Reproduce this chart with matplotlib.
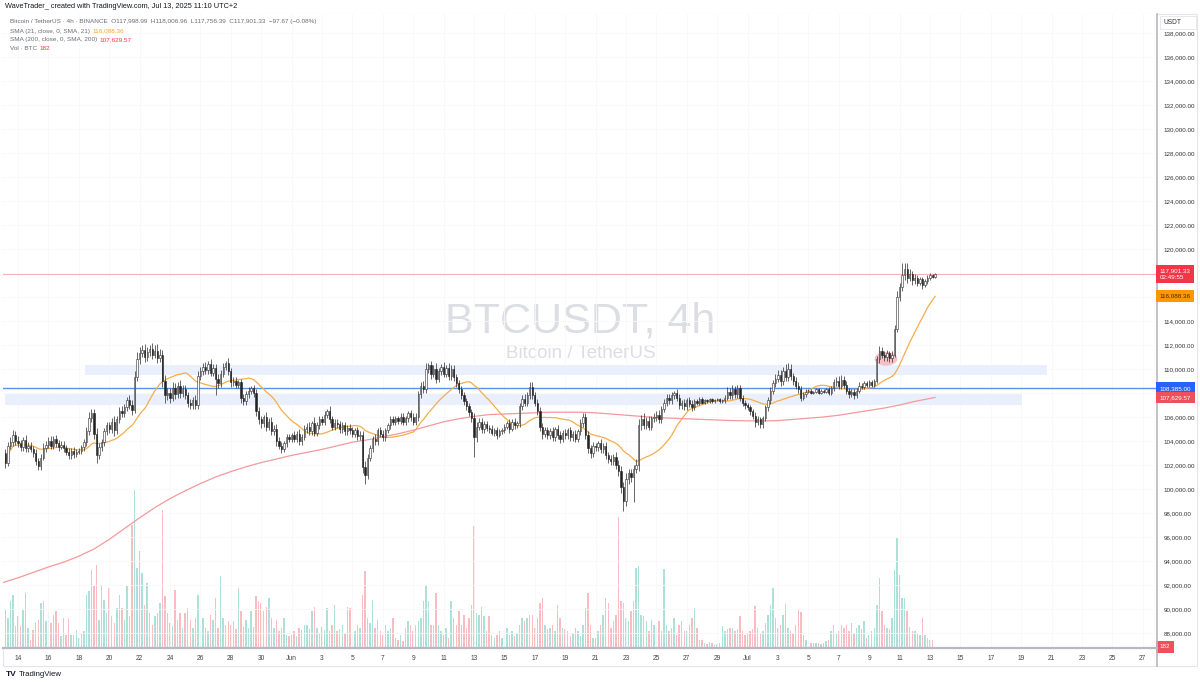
import numpy as np
import pandas as pd
import matplotlib
matplotlib.use("Agg")
import matplotlib.pyplot as plt
import matplotlib.dates as mdates
from matplotlib.patches import Rectangle, Ellipse
from matplotlib.lines import Line2D
from matplotlib.transforms import blended_transform_factory

plt.rcParams['font.family'] = ['Liberation Sans', 'DejaVu Sans']

# ---------------- data (prices in thousands of USDT, volume in thousands of BTC) -------------
first_candle = "2025-05-13 04:00"
first_open = 103.0

closes = [
    102.2, 103.6, 103.9, 104.5, 104.0,                      # May 13
    103.8, 103.5, 104.1, 103.4, 103.6, 103.3,               # May 14
    103.0, 102.3, 101.9, 102.6, 103.4, 103.7,               # May 15
    104.0, 103.6, 104.2, 103.8, 103.5, 103.7,               # May 16
    103.4, 103.1, 102.8, 103.2, 102.9, 103.1,               # May 17
    103.2, 103.5, 103.9, 104.8, 105.9, 106.3,               # May 18
    104.6, 102.8, 103.5, 103.9, 104.8, 105.3,               # May 19
    105.0, 105.6, 104.9, 105.8, 106.5, 106.3,               # May 20
    106.8, 107.4, 107.0, 106.6, 109.3, 110.8,               # May 21
    111.3, 111.6, 111.0, 111.4, 111.7, 111.2,               # May 22
    111.5, 110.9, 111.2, 109.0, 107.8, 108.0,               # May 23
    107.6, 108.4, 107.9, 108.6, 108.0, 108.3,               # May 24
    107.8, 107.2, 107.0, 107.4, 107.0, 109.4,               # May 25
    109.8, 110.2, 109.9, 110.4, 109.7, 110.1,               # May 26
    109.2, 108.8, 109.6, 110.2, 110.5, 109.8,               # May 27
    108.9, 109.0, 108.7, 108.9, 107.6, 107.3,               # May 28
    107.9, 108.2, 108.4, 108.0, 106.5, 105.8,               # May 29
    105.5, 106.0, 105.2, 105.6, 104.8, 105.0,               # May 30
    104.0, 103.6, 103.3, 103.8, 104.3, 104.2,               # May 31
    104.5, 104.2, 104.6, 104.0, 104.3, 105.0,               # Jun 1
    105.2, 104.8, 105.5, 104.7, 105.3, 105.8,               # Jun 2
    105.6, 106.2, 106.5, 105.8, 105.2, 105.5,               # Jun 3
    105.4, 105.0, 105.3, 104.8, 105.1, 104.9,               # Jun 4
    104.6, 104.9, 104.4, 104.5, 101.8, 101.2,               # Jun 5
    102.6, 103.4, 104.2, 104.0, 104.9, 104.6,               # Jun 6
    104.3, 104.9, 105.3, 105.8, 105.6, 105.9,               # Jun 7
    105.7, 106.0, 105.6, 105.9, 106.3, 106.0,               # Jun 8
    105.6, 106.0, 107.9, 108.6, 108.3, 110.0,               # Jun 9
    110.3, 109.6, 110.0, 109.2, 109.8, 110.2,               # Jun 10
    109.6, 110.1, 109.4, 110.0, 109.3, 108.8,               # Jun 11
    108.3, 107.8, 107.3, 106.9, 106.4, 105.9,               # Jun 12
    104.3, 105.2, 105.6, 105.0, 105.4, 105.1,               # Jun 13
    105.0, 104.7, 104.9, 104.5, 104.8, 104.9,               # Jun 14
    105.2, 105.5, 105.0, 105.6, 105.3, 105.5,               # Jun 15
    106.9, 107.5, 107.2, 107.8, 108.5, 107.8,               # Jun 16
    107.2, 106.5, 105.2, 104.6, 104.9, 104.5,               # Jun 17
    104.8, 104.3, 105.0, 104.5, 104.2, 104.7,               # Jun 18
    104.5, 104.9, 104.3, 104.6, 104.2, 104.8,               # Jun 19
    105.5, 106.0, 104.5, 103.4, 103.0, 103.6,               # Jun 20
    103.5, 103.8, 103.3, 103.6, 102.8, 102.5,               # Jun 21
    102.3, 102.7, 102.0, 101.5, 100.2, 99.0,                # Jun 22
    100.8, 101.3, 101.0, 101.7, 102.0, 105.3,               # Jun 23
    105.8, 105.3, 105.7, 105.2, 105.9, 106.0,               # Jun 24
    106.2, 105.8, 106.7, 107.2, 107.6, 107.4,               # Jun 25
    107.8, 108.0, 107.6, 107.0, 107.2, 106.9,               # Jun 26
    107.4, 107.1, 106.8, 107.3, 107.2, 107.5,               # Jun 27
    107.2, 107.4, 107.3, 107.5, 107.3, 107.4,               # Jun 28
    107.5, 107.3, 107.4, 107.6, 108.1, 107.8,               # Jun 29
    108.3, 107.9, 108.4, 107.6, 107.2, 107.0,               # Jun 30
    106.8, 106.5, 106.1, 105.6, 105.8, 105.4,               # Jul 1
    105.9, 106.8, 107.4, 108.2, 108.8, 109.2,               # Jul 2
    109.5, 109.0, 109.8, 109.3, 110.0, 109.4,               # Jul 3
    109.0, 108.6, 108.3, 107.6, 107.9, 108.1,               # Jul 4
    108.2, 108.0, 108.1, 108.3, 108.0, 108.2,               # Jul 5
    108.1, 108.3, 108.0, 108.4, 108.9, 109.0,               # Jul 6
    108.6, 109.1, 108.7, 108.2, 107.9, 108.1,               # Jul 7
    107.8, 108.2, 108.6, 108.5, 108.8, 108.7,               # Jul 8
    108.9, 108.7, 109.0, 110.8, 111.5, 111.2,               # Jul 9
    111.0, 111.3, 110.9, 111.2, 113.3, 116.0,               # Jul 10
    116.8, 117.8, 118.3, 117.6, 117.9, 117.4,               # Jul 11
    117.6, 117.2, 117.5, 117.0, 117.3, 117.6,               # Jul 12
    117.8, 117.7, 117.90133,                                # Jul 13
]

wick_hi = [
    0.3, 0.3, 0.4, 0.4, 0.3,
    0.4, 0.3, 0.2, 0.4, 0.3, 0.3,
    0.3, 0.3, 0.3, 0.3, 0.4, 0.3,
    0.3, 0.4, 0.2, 0.3, 0.3, 0.3,
    0.3, 0.3, 0.3, 0.2, 0.3, 0.2,
    0.2, 0.2, 0.3, 0.4, 0.5, 0.4,
    0.4, 0.5, 0.3, 0.3, 0.3, 0.3,
    0.3, 0.3, 0.5, 0.3, 0.3, 0.4,
    0.3, 0.3, 0.4, 0.4, 0.5, 0.6,
    0.5, 0.4, 0.5, 0.4, 0.3, 0.5,
    0.5, 0.6, 0.5, 0.4, 0.5, 0.4,
    0.4, 0.5, 0.4, 0.3, 0.5, 0.4,
    0.4, 0.3, 0.3, 0.3, 0.4, 0.4,
    0.4, 0.3, 0.4, 0.3, 0.4, 0.3,
    0.3, 0.4, 0.3, 0.3, 0.2, 0.4,
    0.3, 0.3, 0.3, 0.2, 0.3, 0.3,
    0.3, 0.3, 0.2, 0.3, 0.3, 0.3,
    0.3, 0.2, 0.4, 0.3, 0.4, 0.3,
    0.4, 0.3, 0.3, 0.2, 0.3, 0.3,
    0.2, 0.3, 0.2, 0.4, 0.3, 0.3,
    0.3, 0.4, 0.2, 0.5, 0.3, 0.3,
    0.3, 0.3, 0.2, 0.4, 0.3, 0.3,
    0.3, 0.3, 0.3, 0.3, 0.2, 0.3,
    0.3, 0.2, 0.3, 0.3, 0.3, 0.5,
    0.3, 0.3, 0.2, 0.4, 0.2, 0.3,
    0.3, 0.2, 0.2, 0.3, 0.3, 0.2,
    0.2, 0.3, 0.3, 0.2, 0.2, 0.3,
    0.3, 0.3, 0.3, 0.3, 0.4, 0.5,
    0.2, 0.4, 0.3, 0.5, 0.3, 0.2,
    0.4, 0.2, 0.4, 0.3, 0.3, 0.3,
    0.3, 0.3, 0.3, 0.3, 0.3, 0.3,
    0.4, 0.4, 0.3, 0.3, 0.3, 0.3,
    0.2, 0.3, 0.2, 0.3, 0.2, 0.2,
    0.2, 0.2, 0.3, 0.2, 0.3, 0.2,
    0.3, 0.3, 0.4, 0.3, 0.4, 0.4,
    0.3, 0.3, 0.3, 0.3, 0.3, 0.3,
    0.3, 0.4, 0.2, 0.3, 0.3, 0.2,
    0.3, 0.2, 0.3, 0.2, 0.3, 0.2,
    0.3, 0.3, 0.3, 0.3, 0.3, 0.3,
    0.2, 0.2, 0.4, 0.2, 0.3, 0.3,
    0.3, 0.2, 0.4, 0.4, 0.4, 0.4,
    0.5, 0.4, 0.4, 0.3, 0.5, 0.5,
    0.4, 0.5, 0.3, 0.4, 0.2, 0.3,
    0.3, 0.4, 0.2, 0.3, 0.3, 0.3,
    0.3, 0.2, 0.3, 0.3, 0.2, 0.3,
    0.2, 0.3, 0.3, 0.2, 0.2, 0.2,
    0.2, 0.1, 0.1, 0.1, 0.1, 0.1,
    0.1, 0.1, 0.1, 0.2, 0.4, 0.3,
    0.4, 0.3, 0.3, 0.3, 0.2, 0.2,
    0.2, 0.2, 0.2, 0.3, 0.3, 0.2,
    0.2, 0.2, 0.3, 0.3, 0.3, 0.4,
    0.4, 0.4, 0.4, 0.6, 0.5, 0.4,
    0.3, 0.3, 0.3, 0.3, 0.2, 0.2,
    0.1, 0.1, 0.1, 0.1, 0.1, 0.1,
    0.1, 0.1, 0.2, 0.2, 0.3, 0.3,
    0.4, 0.4, 0.3, 0.3, 0.2, 0.2,
    0.2, 0.2, 0.3, 0.2, 0.2, 0.2,
    0.2, 0.2, 0.2, 0.3, 0.4, 0.3,
    0.3, 0.3, 0.2, 0.3, 0.4, 0.5,
    0.4, 1.0, 0.5, 0.5, 0.4, 0.3,
    0.3, 0.2, 0.2, 0.2, 0.2, 0.2,
    0.2, 0.1, 0.1,
]

wick_lo = [
    0.45, 0.3, 0.3, 0.3, 0.3,
    0.3, 0.3, 0.3, 0.3, 0.3, 0.2,
    0.3, 0.3, 0.3, 0.3, 0.2, 0.3,
    0.3, 0.3, 0.3, 0.3, 0.3, 0.2,
    0.3, 0.3, 0.3, 0.3, 0.3, 0.2,
    0.2, 0.3, 0.3, 0.3, 0.3, 0.3,
    0.4, 0.6, 0.3, 0.3, 0.3, 0.3,
    0.3, 0.3, 0.5, 0.3, 0.3, 0.3,
    0.3, 0.3, 0.3, 0.4, 0.3, 0.3,
    0.4, 0.3, 0.4, 0.3, 0.3, 0.4,
    0.3, 0.4, 0.3, 0.5, 0.6, 0.4,
    0.4, 0.3, 0.4, 0.3, 0.4, 0.3,
    0.3, 0.4, 0.3, 0.3, 0.3, 0.3,
    0.3, 0.3, 0.3, 0.3, 0.3, 0.3,
    1.4, 0.4, 0.3, 0.3, 0.3, 0.3,
    0.4, 0.3, 0.3, 0.3, 0.4, 0.3,
    0.3, 0.3, 0.3, 0.3, 0.4, 0.4,
    0.4, 0.3, 0.4, 0.3, 0.3, 0.3,
    0.4, 0.3, 0.3, 0.2, 0.3, 0.3,
    0.3, 0.3, 0.3, 0.3, 0.3, 0.2,
    0.3, 0.3, 0.3, 0.3, 0.3, 0.3,
    0.3, 0.3, 0.3, 0.3, 0.3, 0.3,
    0.3, 0.3, 0.3, 0.3, 0.3, 0.3,
    0.3, 0.3, 0.3, 0.3, 0.5, 0.8,
    0.4, 0.3, 0.3, 0.3, 0.3, 0.3,
    0.3, 0.3, 0.2, 0.3, 0.3, 0.3,
    0.3, 0.3, 0.3, 0.3, 0.3, 0.3,
    0.3, 0.3, 0.3, 0.3, 0.3, 0.3,
    0.3, 0.4, 0.3, 0.4, 0.3, 0.3,
    0.3, 0.3, 0.3, 0.3, 0.3, 0.3,
    0.3, 0.3, 0.3, 0.3, 0.3, 0.3,
    1.6, 0.4, 0.3, 0.3, 0.3, 0.3,
    0.3, 0.2, 0.3, 0.3, 0.2, 0.2,
    0.2, 0.2, 0.3, 0.2, 0.3, 0.2,
    0.3, 0.3, 0.3, 0.3, 0.3, 0.3,
    0.3, 0.3, 0.4, 0.4, 0.3, 0.3,
    0.3, 0.3, 0.3, 0.3, 0.4, 0.3,
    0.3, 0.3, 0.3, 0.3, 0.3, 0.3,
    0.3, 0.3, 0.3, 0.4, 0.4, 0.3,
    0.3, 0.3, 0.3, 0.3, 0.3, 0.3,
    0.3, 0.3, 0.3, 0.4, 0.5, 0.8,
    0.4, 0.4, 0.4, 2.1, 0.4, 0.5,
    0.4, 0.3, 0.3, 0.3, 0.3, 0.3,
    0.3, 0.3, 0.3, 0.3, 0.3, 0.3,
    0.3, 0.3, 0.3, 0.3, 0.3, 0.3,
    0.3, 0.3, 0.3, 0.2, 0.2, 0.2,
    0.1, 0.1, 0.1, 0.1, 0.1, 0.1,
    0.1, 0.1, 0.1, 0.2, 0.2, 0.3,
    0.3, 0.3, 0.3, 0.3, 0.3, 0.3,
    0.2, 0.3, 0.3, 0.4, 0.3, 0.3,
    0.3, 0.2, 0.3, 0.3, 0.3, 0.3,
    0.3, 0.4, 0.3, 0.3, 0.3, 0.3,
    0.3, 0.3, 0.3, 0.3, 0.2, 0.2,
    0.1, 0.1, 0.1, 0.1, 0.1, 0.1,
    0.1, 0.1, 0.2, 0.2, 0.2, 0.3,
    0.3, 0.3, 0.3, 0.3, 0.3, 0.2,
    0.3, 0.2, 0.2, 0.2, 0.2, 0.2,
    0.2, 0.2, 0.2, 0.2, 0.3, 0.3,
    0.3, 0.3, 0.3, 0.3, 0.2, 0.2,
    0.3, 0.3, 0.4, 0.4, 0.3, 0.4,
    0.3, 0.3, 0.2, 0.3, 0.2, 0.2,
    0.2, 0.1, 0.1,
]

volumes = [
    5.7, 4.5, 7.0, 8.0, 3.3,
    4.8, 3.3, 5.7, 8.2, 3.0, 1.2,
    2.7, 3.8, 4.2, 6.8, 7.0, 4.0,
    5.2, 3.8, 5.0, 5.5, 3.8, 1.8,
    4.5, 2.0, 4.4, 2.0, 2.0, 2.7,
    1.5, 2.2, 2.5, 8.0, 8.5, 11.7,
    9.3, 12.5, 4.2, 9.5, 7.2, 5.2,
    9.0, 4.8, 3.8, 6.0, 8.0, 6.0,
    4.2, 9.3, 4.8, 18.5, 23.7, 12.0,
    14.5, 11.2, 6.5, 9.8, 5.2, 3.5,
    4.8, 5.2, 6.8, 20.7, 7.8, 5.2,
    3.8, 3.3, 8.7, 4.2, 5.2, 3.0,
    5.2, 6.0, 4.2, 3.0, 4.5, 7.9,
    3.5, 4.5, 3.0, 2.5, 5.0, 4.2,
    7.5, 3.0, 10.8, 4.5, 3.5, 4.0,
    3.5, 4.0, 2.8, 9.0, 5.5, 3.2,
    4.2, 3.0, 5.5, 3.2, 7.8, 7.0,
    6.8, 5.5, 6.2, 7.5, 4.5, 3.0,
    4.2, 2.5, 3.0, 4.5, 2.0, 1.8,
    2.0, 2.5, 1.8, 3.0, 2.7, 3.5,
    3.5, 2.8, 5.5, 6.2, 3.0, 2.2,
    3.2, 2.7, 6.0, 2.5, 3.5, 6.5,
    2.5, 2.8, 3.5, 2.2, 6.2, 6.0,
    2.0, 2.5, 3.5, 3.0, 8.0, 11.5,
    4.5, 3.8, 7.2, 3.0, 4.2, 2.5,
    2.0, 3.5, 2.5, 3.0, 4.5, 1.5,
    1.2, 2.0, 1.0, 3.0, 4.0, 3.5,
    2.5, 3.5, 4.0, 4.5, 7.0, 9.5,
    7.0, 3.5, 3.5, 8.2, 3.5, 2.5,
    2.0, 3.0, 1.5, 7.0, 4.5, 3.5,
    5.5, 3.5, 5.0, 3.0, 4.5, 6.5,
    18.3, 5.2, 5.0, 6.1, 4.8, 2.5,
    4.8, 2.0, 1.5, 2.0, 2.5, 1.5,
    2.0, 3.0, 2.0, 2.5, 1.8, 2.2,
    3.5, 4.5, 4.0, 4.5, 5.0, 5.0,
    3.0, 4.5, 6.8, 7.5, 3.5, 2.8,
    3.0, 3.5, 2.5, 6.5, 4.5, 3.0,
    2.8, 2.5, 1.8, 2.2, 3.0, 2.5,
    1.8, 3.5, 6.0, 8.2, 3.5, 1.5,
    1.5, 2.5, 3.5, 5.0, 7.5, 6.8,
    3.0, 4.0, 5.0, 19.7, 7.0, 6.8,
    4.5, 4.0, 5.5, 7.0, 12.0, 12.3,
    5.0, 4.8, 4.0, 2.5, 4.2, 3.5,
    3.0, 4.0, 2.5, 11.8, 3.5, 2.5,
    3.0, 4.5, 2.0, 3.5, 4.0, 2.5,
    2.5, 3.5, 4.5, 6.0, 3.0, 1.2,
    1.2, 0.8, 0.6, 0.9, 0.7, 0.5,
    0.6, 0.8, 3.3, 2.5, 2.8, 3.0,
    3.0, 2.5, 2.8, 4.8, 2.5, 2.0,
    2.2, 2.5, 2.8, 6.3, 3.0, 2.2,
    2.5, 3.8, 5.0, 6.5, 9.0, 4.5,
    3.0, 3.5, 5.0, 6.6, 3.0, 2.5,
    2.2, 3.5, 5.7, 5.4, 2.0, 1.2,
    1.0, 0.8, 0.8, 0.7, 0.8, 0.6,
    0.7, 1.0, 1.2, 2.5, 3.5, 2.3,
    2.5, 3.5, 3.0, 3.5, 2.5, 3.8,
    2.2, 3.0, 3.5, 2.8, 4.0, 1.5,
    2.0, 2.5, 3.0, 6.5, 10.5, 5.5,
    3.5, 3.0, 2.8, 4.5, 11.7, 16.5,
    10.9, 7.5, 7.5, 5.5, 3.2, 2.5,
    2.5, 2.2, 2.0, 4.5, 2.0, 1.5,
    1.2, 1.2, 0.182,
]

# SMA 200 at 00:00 of each day, May 13 .. Jul 13
sma200_start = "2025-05-13"
sma200_daily = [
    92.2, 92.6, 93.05, 93.5, 93.9, 94.4, 95.0, 95.8, 96.7, 97.6, 98.45, 99.2, 99.85,
    100.45, 101.0, 101.45, 101.85, 102.2, 102.5,
    102.8, 103.05, 103.3, 103.6, 103.9, 104.1, 104.35, 104.6, 104.9, 105.25, 105.6,
    105.85, 106.05, 106.2, 106.25, 106.3, 106.35, 106.4, 106.4, 106.4, 106.35,
    106.25, 106.15, 106.05, 105.95, 105.9, 105.85, 105.8, 105.75, 105.7,
    105.68, 105.67, 105.7, 105.8, 105.9, 106.0, 106.15, 106.35, 106.55, 106.75,
    107.0, 107.3, 107.55,
]
sma200_last = 107.62957
sma21_last = 116.08836
last_price = 117.90133
blue_level = 108.385
zone_upper = (109.5, 110.35, "2025-05-18 10:00", "2025-07-20 17:00")
zone_lower = (107.0, 107.95, "2025-05-13 03:00", "2025-07-19 01:00")
highlight = ("2025-07-10 02:30", 110.85)

ytick_vals = list(range(88000, 140000, 2000))
# labels hidden behind the value tags on the price scale
ytick_hidden = [118000, 116000, 108000]

# ---------------- derived ----------------
n = min(len(closes), len(wick_hi), len(wick_lo), len(volumes))
c = np.array(closes[:n]) * 1000
o = np.concatenate([[first_open * 1000], c[:-1]])
hi = np.maximum(o, c) + np.array(wick_hi[:n]) * 1000
lo = np.minimum(o, c) - np.array(wick_lo[:n]) * 1000
vol = np.array(volumes[:n])
times = pd.date_range(first_candle, periods=n, freq="4h")
x = mdates.date2num(times)
up = c >= o
sma21 = pd.Series(c).rolling(21, min_periods=1).mean().values

W, H = 1200, 682
def fx(p): return p / W
def fy(p): return 1 - p / H

fig = plt.figure(figsize=(12, 6.82), dpi=100, facecolor='white')
L, R, T, B = 3, 1157, 14, 648
ax2 = fig.add_axes([fx(L), fy(B), (R - L) / W, (B - T) / H])
ax = fig.add_axes([fx(L), fy(B), (R - L) / W, (B - T) / H], sharex=ax2)
ax.patch.set_visible(False)
ax.set_zorder(2)
ax2.set_zorder(1)

# x limits from pixel geometry (May 14 00:00 at px 18, 15.2 px per day)
d0 = mdates.date2num(pd.Timestamp("2025-05-14"))
ax.set_xlim(d0 + (L - 18) / 15.2, d0 + (R - 18) / 15.2)
# y limits (120,000 at px 249, 24 px per 2,000)
ax.set_ylim(120000 - (B - 249) * 2000 / 24, 120000 + (249 - T) * 2000 / 24)
ax2.set_ylim(0, (B - T) * 0.15)

# volume
vcol = np.where(up, '#ace0d9', '#f9bcc0')
ax2.bar(x, vol, width=0.6 / 6, color=vcol, linewidth=0, zorder=1)
for s in ax2.spines.values():
    s.set_visible(False)
ax2.set_yticks([])
ax2.tick_params(axis='x', bottom=False, labelbottom=False)

# zones
for lo_p, hi_p, t0, t1 in (zone_upper, zone_lower):
    a = mdates.date2num(pd.Timestamp(t0)); b = mdates.date2num(pd.Timestamp(t1))
    ax.add_patch(Rectangle((a, lo_p * 1000), b - a, (hi_p - lo_p) * 1000,
                           facecolor='#e9effd', edgecolor='none', zorder=1))

# watermark
ax.text(fx(580), fy(321), "BTCUSDT, 4h", transform=fig.transFigure, ha='center', va='center',
        fontsize=31, color='#dcdee4', zorder=0.5)
ax.text(fx(581), fy(353), "Bitcoin / TetherUS", transform=fig.transFigure, ha='center', va='center',
        fontsize=13.5, color='#dcdee4', zorder=0.5)

# level lines
ax.axhline(blue_level * 1000, color='#5b8ff0', lw=1.0, zorder=2)
ax.axhline(last_price * 1000, color='#f6b0b0', lw=0.7, zorder=2)

# highlight ellipse
ax.add_patch(Ellipse((mdates.date2num(pd.Timestamp(highlight[0])), highlight[1] * 1000),
                     1.5, 1150, facecolor='#f4a6b0', edgecolor='none', alpha=0.7, zorder=2))

# moving averages
ax.plot(x, sma21, color='#f6ad4a', lw=0.9, zorder=3)
sx = list(mdates.date2num(pd.date_range(sma200_start, periods=len(sma200_daily), freq="D"))) + [x[-1]]
sy = [v * 1000 for v in sma200_daily] + [sma200_last * 1000]
ax.plot(sx, sy, color='#f4999c', lw=0.9, zorder=3)

# candles
ax.vlines(x, lo, hi, color='#2a2a2a', lw=0.5, zorder=4)
bw = 0.55 / 6
body_h = np.maximum(np.abs(c - o), 40)
body_b = np.minimum(o, c)
ax.bar(x[up], body_h[up], bottom=body_b[up], width=bw, color='white', edgecolor='#2a2a2a', lw=0.4, zorder=5)
ax.bar(x[~up], body_h[~up], bottom=body_b[~up], width=bw, color='#222222', edgecolor='#222222', lw=0.4, zorder=5)

# axes styling
ax.yaxis.tick_right()
ax.set_yticks(ytick_vals)
ax.set_yticklabels(["" if v in ytick_hidden else f"{v:,.2f}" for v in ytick_vals])
ax.tick_params(axis='y', length=0, pad=5, labelsize=4.5, labelcolor='#333333')
xt = pd.date_range("2025-05-14", "2025-07-27", freq="2D")
ax.set_xticks(mdates.date2num(xt))
ax.set_xticklabels([("Jun" if t.month == 6 else "Jul") if t.day == 1 else str(t.day) for t in xt])
ax.tick_params(axis='x', length=0, pad=5, labelsize=4.8, labelcolor='#444444')
ax.grid(True, color='#f8f8fa', lw=0.6, zorder=0)
ax.set_axisbelow(True)
for s in ('top', 'left'):
    ax.spines[s].set_visible(False)
ax.spines['right'].set_color('#b7b9c0'); ax.spines['right'].set_linewidth(1.2)
ax.spines['bottom'].set_color('#b7b9c0'); ax.spines['bottom'].set_linewidth(1.6)

# right-axis value tags
tr = blended_transform_factory(ax.transAxes, ax.transData)
def tag(y, text, fc, tc='white', axis=ax, trf=None):
    axis.text(1.0025, y, text, transform=trf or tr, ha='left', va='center', fontsize=4.5, color=tc,
              bbox=dict(boxstyle='square,pad=0.55', fc=fc, ec='none'), zorder=10, clip_on=False,
              linespacing=1.25)
tag(last_price * 1000, "117,901.33\n02:49:55", '#f23645')
tag(sma21_last * 1000, "116,088.36", '#ff9800', tc='#3b2a00')
tag(blue_level * 1000, "108,385.00", '#2962ff')
tag(sma200_last * 1000, "107,629.57", '#f0505a')
tag(0.182, "182", '#f0505a', axis=ax2, trf=blended_transform_factory(ax2.transAxes, ax2.transData))

# outer frame lines
fig.add_artist(Rectangle((fx(3), fy(666)), (1197 - 3) / W, (666 - 14) / H, transform=fig.transFigure,
                         fill=False, edgecolor='#e3e5ea', lw=0.8, zorder=0))
fig.add_artist(Line2D([fx(R), fx(R)], [fy(666), fy(B)], transform=fig.transFigure, color='#b7b9c0', lw=1.2))

# USDT box
fig.add_artist(Rectangle((fx(1160), fy(29)), 36 / W, 13 / H, transform=fig.transFigure,
                         facecolor='white', edgecolor='#e3e5ea', lw=0.6, zorder=20))
fig.text(fx(1164), fy(22.5), "USDT", fontsize=4.8, color='#333333', va='center', ha='left', zorder=21)

# header texts
renderer = fig.canvas.get_renderer()
fig.text(fx(5), fy(7), "WaveTrader_ created with TradingView.com, Jul 13, 2025 11:10 UTC+2",
         fontsize=5.3, color='#131722', va='center', ha='left')

def header(y, parts, size=4.6):
    xp = 10
    for txt, col in parts:
        t = fig.text(fx(xp), fy(y), txt, fontsize=size, color=col, va='center', ha='left', zorder=15)
        bb = t.get_window_extent(renderer=renderer)
        xp = bb.x1 + 2.5

grey = '#6a6d78'
header(22, [("Bitcoin / TetherUS · 4h · BINANCE  O117,998.99  H118,006.96  L117,756.39  C117,901.33  −97.67 (−0.08%)", grey)])
header(31, [("SMA (21, close, 0, SMA, 21)", grey), ("116,088.36", '#f5a623')])
header(40, [("SMA (200, close, 0, SMA, 200)", grey), ("107,629.57", '#f23645')])
header(49, [("Vol · BTC", grey), ("182", '#f23645')])

# footer logo
fig.text(fx(6), fy(674), "TV", fontsize=6, fontweight='bold', color='#131722', va='center', ha='left')
fig.text(fx(19), fy(674), "TradingView", fontsize=5.6, color='#131722', va='center', ha='left')

fig.savefig("out.png", dpi=100, facecolor='white')
